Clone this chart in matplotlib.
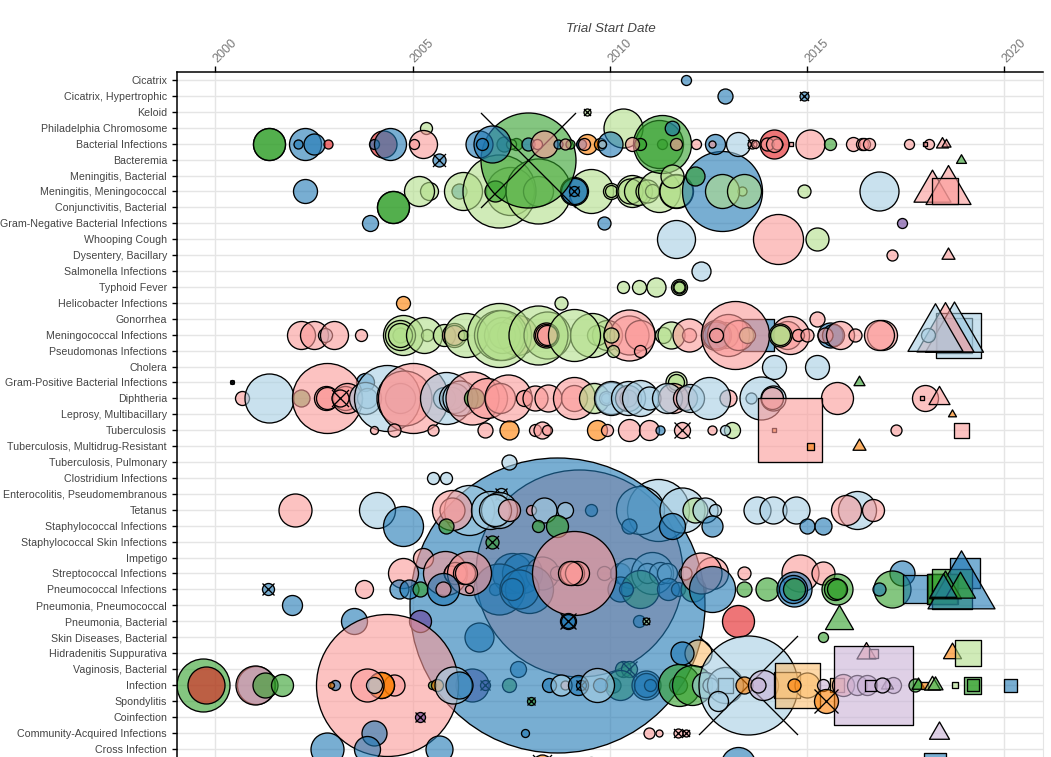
import matplotlib
matplotlib.use("Agg")
import matplotlib.pyplot as plt
from matplotlib.path import Path

condition_labels = [
    "Cicatrix", "Cicatrix, Hypertrophic", "Keloid", "Philadelphia Chromosome", "Bacterial Infections",
    "Bacteremia", "Meningitis, Bacterial", "Meningitis, Meningococcal", "Conjunctivitis, Bacterial",
    "Gram-Negative Bacterial Infections", "Whooping Cough", "Dysentery, Bacillary", "Salmonella Infections",
    "Typhoid Fever", "Helicobacter Infections", "Gonorrhea", "Meningococcal Infections",
    "Pseudomonas Infections", "Cholera", "Gram-Positive Bacterial Infections", "Diphtheria",
    "Leprosy, Multibacillary", "Tuberculosis", "Tuberculosis, Multidrug-Resistant", "Tuberculosis, Pulmonary",
    "Clostridium Infections", "Enterocolitis, Pseudomembranous", "Tetanus", "Staphylococcal Infections",
    "Staphylococcal Skin Infections", "Impetigo", "Streptococcal Infections", "Pneumococcal Infections",
    "Pneumonia, Pneumococcal", "Pneumonia, Bacterial", "Skin Diseases, Bacterial", "Hidradenitis Suppurativa",
    "Vaginosis, Bacterial", "Infection", "Spondylitis", "Coinfection", "Community-Acquired Infections",
    "Cross Infection",
]
year_ticks = [2000, 2005, 2010, 2015, 2020]

# each record: start year, enrollment bubble size, phase code, status/type code
phase_colors = {"lb": "#a6cee3", "b": "#1f78b4", "lg": "#b2df8a", "g": "#33a02c", "p": "#fb9a99",
                "r": "#e31a1c", "lo": "#fdbf6f", "o": "#ff7f00", "lv": "#cab2d6", "v": "#6a3d9a"}

strep_large = [(2009.22, 207, "p", "o")]
pneumo_large = [(2008.65, 295, "b", "o")]

row27_under = [(2011.23, 62, "lb", "o"), (2010.76, 48, "lb", "o"), (2009.52, 12, "b", "o")]
row28_under = [(2010.49, 15, "b", "o")]
row31_under = [(2007.52, 40, "b", "o"), (2007.78, 40, "b", "o"), (2008.28, 33, "p", "o"), (2008.66, 14, "p", "o"),
               (2009.85, 14, "p", "o"), (2010.25, 20, "b", "o"), (2010.51, 30, "lb", "o"), (2011.07, 42, "lb", "o"),
               (2010.93, 20, "lb", "o"), (2011.27, 22, "lb", "o"), (2011.44, 20, "lb", "o")]
row32_under = [(2007.08, 12, "b", "o"), (2007.18, 51, "b", "o"), (2007.94, 48, "b", "o"), (2007.69, 39, "b", "o"),
               (2007.52, 22, "b", "o"), (2010.25, 25, "b", "o"), (2010.76, 38, "g", "o"), (2010.42, 14, "b", "o"),
               (2011.48, 22, "b", "o"), (2011.73, 14, "b", "o"), (2012.11, 25, "g", "o")]
row34_under = [(2010.74, 12, "b", "o")]
row35_under = [(2006.68, 29, "b", "o")]
row37_under = [(2007.67, 16, "b", "o"), (2010.34, 16, "g", "o"), (2010.49, 16, "g", "x")]
row38_under = [(2006.51, 33, "v", "o"), (2006.84, 10, "v", "x"), (2007.44, 14, "g", "o"), (2010.08, 15, "b", "o"),
               (2010.25, 30, "g", "o"), (2010.91, 29, "b", "o"), (2010.91, 24, "b", "o"), (2011.01, 12, "b", "o")]

row0 = [(2011.92, 10, "b", "o")]
row1 = [(2012.92, 15, "b", "o"), (2014.91, 9, "b", "x")]
row2 = [(2009.42, 7, "lg", "x")]
row3 = [(2005.34, 12, "lg", "o"), (2010.32, 39, "lg", "o")]
row4_under = [(2007.31, 15, "b", "o"), (2007.61, 12, "g", "o"), (2007.50, 10, "lg", "o")]
row5 = [(2007.93, 95, "g", "x"), (2005.68, 13, "b", "x"), (2018.91, 10, "g", "^")]
row4 = [(2001.35, 32, "g", "o"), (2001.35, 32, "g", "o"), (2002.26, 32, "b", "o"), (2002.10, 9, "b", "o"),
        (2002.50, 21, "b", "o"), (2002.85, 9, "r", "o"), (2004.26, 27, "r", "o"), (2004.03, 10, "b", "o"),
        (2004.43, 32, "b", "o"), (2005.26, 28, "p", "o"), (2005.03, 10, "p", "o"), (2006.68, 27, "b", "o"),
        (2007.02, 37, "b", "o"), (2006.76, 12, "b", "o"), (2007.92, 13, "b", "o"), (2008.16, 10, "p", "o"),
        (2008.34, 27, "p", "o"), (2008.68, 9, "b", "o"), (2009.00, 9, "g", "o"), (2008.87, 11, "p", "o"),
        (2009.42, 20, "o", "o"), (2009.27, 10, "b", "o"), (2009.34, 12, "p", "o"), (2009.76, 12, "o", "o"),
        (2010.00, 25, "b", "o"), (2009.81, 8, "lb", "o"), (2011.33, 10, "g", "o"), (2011.25, 48, "g", "o"),
        (2011.33, 58, "g", "o"), (2010.76, 12, "g", "o"), (2010.57, 14, "p", "o"), (2011.67, 12, "p", "o"),
        (2012.17, 10, "p", "o"), (2012.66, 20, "b", "o"), (2012.58, 7, "p", "o"), (2013.24, 24, "lb", "o"),
        (2013.61, 9, "p", "x"), (2013.69, 8, "p", "o"), (2014.17, 29, "r", "o"), (2013.97, 13, "p", "o"),
        (2014.23, 11, "p", "o"), (2014.17, 16, "p", "o"), (2014.59, 5, "p", "s"), (2015.07, 29, "p", "o"),
        (2015.58, 12, "g", "o"), (2016.16, 14, "p", "o"), (2016.40, 12, "p", "o"), (2016.45, 12, "p", "o"),
        (2016.57, 12, "p", "o"), (2017.57, 10, "p", "o"), (2018.08, 10, "p", "o"), (2018.00, 5, "p", "s"),
        (2018.41, 12, "p", "^"), (2018.51, 9, "p", "^")]
row3b = [(2011.58, 14.5, "b", "o")]
row6 = [(2012.16, 19, "g", "o"), (2011.58, 23, "lg", "o")]
row7 = [(2002.26, 24, "b", "o"), (2005.42, 18, "lg", "o"), (2005.17, 30, "lg", "o"), (2006.18, 15, "b", "o"),
        (2006.27, 38, "lg", "o"), (2007.48, 48, "lg", "o"), (2007.18, 73, "lg", "o"), (2008.18, 30, "lg", "o"),
        (2008.18, 65, "lg", "o"), (2009.53, 44, "lg", "o"), (2009.09, 28, "b", "o"), (2009.09, 26, "b", "o"),
        (2007.10, 21, "g", "o"), (2009.09, 10, "b", "x"), (2010.02, 16, "lg", "o"), (2010.04, 12, "lg", "o"),
        (2010.57, 32, "lg", "o"), (2010.51, 25, "lg", "o"), (2010.72, 28, "lg", "o"), (2010.93, 23, "lg", "o"),
        (2011.06, 14, "lg", "o"), (2011.25, 42, "lg", "o"), (2011.67, 34, "lg", "o"), (2011.67, 33, "lg", "o"),
        (2012.85, 80, "b", "o"), (2013.34, 9, "lg", "o"), (2012.83, 34, "lg", "o"), (2013.41, 34, "lg", "o"),
        (2014.91, 13, "lg", "o"), (2016.83, 39, "lb", "o"), (2018.16, 37, "p", "^"), (2018.58, 45, "p", "^"),
        (2018.50, 27, "p", "s")]
row8 = [(2004.51, 32, "g", "o"), (2004.51, 32, "g", "o")]
row9 = [(2003.93, 16, "b", "o"), (2009.85, 13, "b", "o"), (2017.41, 10, "v", "o")]
row10 = [(2011.67, 38, "lb", "o"), (2014.25, 50, "p", "o"), (2015.24, 23, "lg", "o")]
row11 = [(2017.16, 11, "p", "o"), (2018.58, 13, "p", "^")]
row12 = [(2012.32, 19, "lb", "o")]
row13 = [(2010.33, 12, "lg", "o"), (2010.74, 14, "lg", "o"), (2011.17, 19, "lg", "o"), (2011.75, 16, "lg", "o"),
         (2011.75, 13, "lg", "o"), (2011.75, 11, "lg", "o")]
row14 = [(2004.76, 14, "o", "o"), (2008.76, 13, "lg", "o")]
row15 = [(2015.25, 15, "p", "o")]
row16 = [(2002.17, 28, "p", "o"), (2002.50, 28, "p", "o"), (2002.78, 14, "lb", "o"), (2003.01, 28, "p", "o"),
         (2003.68, 12, "p", "o"), (2004.69, 15, "lg", "o"), (2004.75, 40, "lg", "o"), (2004.69, 30, "lg", "o"),
         (2004.69, 24, "lg", "o"), (2005.36, 12, "lg", "o"), (2005.28, 36, "lg", "o"), (2005.79, 22, "lg", "o"),
         (2006.04, 24, "p", "o"), (2006.04, 20, "p", "o"), (2006.34, 44, "lg", "o"), (2006.27, 10, "lg", "o"),
         (2007.65, 40, "p", "o"), (2007.27, 26, "lg", "o"), (2007.27, 36, "lg", "o"), (2007.18, 50, "lg", "o"),
         (2007.27, 50, "lg", "o"), (2007.18, 64, "lg", "o"), (2008.41, 47, "lg", "o"), (2008.17, 59, "lg", "o"),
         (2008.37, 25, "p", "o"), (2008.37, 22, "p", "o"), (2008.41, 20, "p", "o"), (2009.93, 30, "lg", "o"),
         (2009.68, 20, "lg", "o"), (2009.55, 44, "lg", "o"), (2009.09, 52, "lg", "o"), (2010.48, 39, "p", "o"),
         (2010.76, 30, "p", "o"), (2010.48, 51, "p", "o"), (2010.04, 15, "lg", "o"), (2011.35, 16, "lg", "o"),
         (2011.56, 27, "lg", "o"), (2012.00, 14, "p", "o"), (2012.00, 33, "p", "o"), (2013.76, 32, "b", "s"),
         (2012.92, 26, "lg", "o"), (2012.70, 30, "b", "o"), (2012.70, 27, "b", "o"), (2013.00, 42, "p", "o"),
         (2013.25, 30, "p", "o"), (2013.47, 16, "lg", "o"), (2013.17, 68, "p", "o"), (2012.68, 14, "p", "o"),
         (2014.48, 28, "p", "o"), (2014.57, 38, "p", "o"), (2014.78, 12, "p", "o"), (2014.99, 13, "p", "o"),
         (2014.31, 23, "lg", "o"), (2014.31, 20, "lg", "o"), (2015.58, 25, "b", "o"), (2015.65, 22, "b", "o"),
         (2015.45, 15, "p", "o"), (2015.83, 28, "p", "o"), (2016.21, 13, "p", "o"), (2016.89, 30, "p", "o"),
         (2016.83, 30, "p", "o"), (2018.71, 35, "lb", "s"), (2018.83, 45, "lb", "s"), (2018.71, 58, "lb", "^"),
         (2018.49, 57, "p", "^"), (2018.07, 14, "lb", "o"), (2018.24, 55, "lb", "^")]
row17 = [(2010.08, 12, "lg", "o"), (2010.76, 12, "p", "o")]
row18 = [(2014.16, 24, "lb", "o"), (2015.24, 24, "lb", "o")]
row19 = [(2000.42, 4, "b", "x"), (2003.78, 18, "b", "o"), (2011.67, 21, "lg", "o"), (2011.67, 16, "lg", "o"),
         (2016.32, 11, "g", "^")]
row20 = [(2000.68, 14, "p", "o"), (2001.35, 49, "lb", "o"), (2002.18, 17, "g", "o"), (2002.83, 70, "p", "o"),
         (2002.80, 24, "p", "o"), (2002.83, 22, "p", "o"), (2003.29, 24, "p", "o"), (2003.33, 30, "p", "o"),
         (2003.16, 17, "p", "x"), (2003.84, 20, "lb", "o"), (2003.80, 32, "lb", "o"), (2004.69, 30, "lb", "o"),
         (2004.35, 66, "lb", "o"), (2004.77, 55, "p", "o"), (2005.01, 70, "p", "o"), (2005.79, 22, "lb", "o"),
         (2006.00, 22, "lb", "o"), (2005.85, 52, "lb", "o"), (2006.04, 30, "lb", "o"), (2006.21, 35, "lb", "o"),
         (2006.51, 53, "p", "o"), (2006.55, 20, "g", "o"), (2006.89, 40, "p", "o"), (2007.22, 30, "p", "o"),
         (2007.41, 47, "p", "o"), (2007.82, 16, "p", "o"), (2008.09, 25, "p", "o"), (2008.43, 27, "p", "o"),
         (2009.09, 26, "p", "o"), (2009.09, 42, "p", "o"), (2009.59, 30, "lg", "o"), (2009.89, 10, "lb", "o"),
         (2009.89, 14, "lb", "o"), (2010.02, 32, "lb", "o"), (2010.04, 34, "lb", "o"), (2010.46, 17, "p", "o"),
         (2010.46, 26, "p", "o"), (2010.46, 34, "lb", "o"), (2010.76, 36, "lb", "o"), (2011.00, 23, "lb", "o"),
         (2011.61, 30, "p", "o"), (2011.44, 30, "lb", "o"), (2011.90, 24, "p", "o"), (2012.03, 28, "lb", "o"),
         (2013.00, 17, "p", "o"), (2012.51, 42, "lb", "o"), (2013.58, 11, "lb", "o"), (2013.83, 43, "lb", "o"),
         (2014.14, 25, "lb", "o"), (2014.10, 22, "p", "o"), (2015.75, 32, "p", "o"), (2017.99, 26, "p", "o"),
         (2017.90, 5, "p", "s"), (2018.33, 21, "p", "^")]
row21 = [(2018.66, 8, "o", "^")]
row22 = [(2004.01, 8, "p", "o"), (2004.52, 13, "p", "o"), (2005.52, 11, "p", "o"), (2006.84, 15, "p", "o"),
         (2007.43, 19, "o", "o"), (2008.10, 12, "p", "o"), (2008.27, 17, "p", "o"), (2008.41, 10, "p", "o"),
         (2009.68, 20, "o", "o"), (2009.93, 12, "p", "o"), (2010.48, 22, "p", "o"), (2011.00, 20, "p", "o"),
         (2011.27, 9, "b", "o"), (2011.83, 16, "p", "x"), (2012.58, 9, "p", "o"), (2013.09, 16, "lg", "o"),
         (2012.92, 10, "lb", "o"), (2014.16, 5, "o", "s"), (2014.57, 64, "p", "s"), (2017.24, 11, "p", "o"),
         (2018.90, 15, "p", "s")]
row23 = [(2015.07, 7, "o", "s"), (2016.32, 13, "o", "^")]
row24 = [(2007.43, 15, "lb", "o")]
row25 = [(2005.52, 12, "lb", "o"), (2005.85, 12, "lb", "o")]
row26 = [(2007.23, 12, "lb", "x")]
row27 = [(2002.01, 33, "p", "o"), (2004.09, 36, "lb", "o"), (2006.42, 50, "lb", "o"), (2006.00, 25, "p", "o"),
         (2006.00, 40, "p", "o"), (2006.97, 38, "lb", "o"), (2007.18, 36, "lb", "o"), (2007.10, 32, "lb", "o"),
         (2007.44, 22, "p", "o"), (2007.99, 10, "p", "o"), (2008.34, 25, "lb", "o"), (2008.86, 16, "lb", "o"),
         (2011.82, 45, "lb", "o"), (2012.16, 25, "lg", "o"), (2012.41, 25, "lb", "o"), (2012.66, 12, "lb", "o"),
         (2013.72, 27, "lb", "o"), (2014.14, 27, "lb", "o"), (2014.73, 27, "lb", "o"), (2016.26, 38, "lb", "o"),
         (2015.98, 30, "p", "o"), (2016.66, 22, "p", "o")]
row28 = [(2004.76, 40, "b", "o"), (2005.85, 15, "g", "o"), (2008.17, 12, "g", "o"), (2008.66, 22, "g", "o"),
         (2011.58, 26, "b", "o"), (2012.58, 21, "b", "o"), (2014.99, 15, "b", "o"), (2015.41, 17, "b", "o")]
row29 = [(2007.01, 13, "g", "x")]
row30 = [(2005.26, 20, "p", "o")]
row31 = [(2004.75, 30, "p", "o"), (2005.83, 44, "p", "o"), (2005.96, 15, "p", "o"), (2006.08, 22, "p", "o"),
         (2006.44, 44, "p", "o"), (2006.29, 22, "p", "o"), (2006.34, 22, "p", "o"), (2009.09, 84, "p", "o"),
         (2009.04, 24, "p", "o"), (2009.17, 24, "p", "o"), (2009.00, 24, "p", "o"), (2011.90, 13, "lb", "o"),
         (2012.58, 32, "p", "o"), (2012.32, 41, "p", "o"), (2013.41, 13, "p", "o"), (2014.82, 37, "p", "o"),
         (2015.41, 23, "p", "o"), (2019.00, 30, "b", "s"), (2017.41, 25, "b", "o")]
row32 = [(2001.34, 12, "b", "x"), (2003.76, 18, "p", "o"), (2004.66, 19, "b", "o"), (2004.92, 19, "b", "o"),
         (2005.19, 15, "g", "o"), (2005.76, 32, "b", "o"), (2005.76, 15, "p", "o"), (2006.42, 8, "p", "o"),
         (2012.58, 46, "b", "o"), (2013.41, 15, "g", "o"), (2013.98, 23, "g", "o"), (2014.66, 35, "b", "o"),
         (2014.63, 28, "b", "o"), (2014.66, 22, "g", "o"), (2015.75, 31, "g", "o"), (2015.71, 22, "g", "o"),
         (2015.75, 20, "g", "o"), (2017.16, 37, "g", "o"), (2016.83, 13, "b", "o"), (2017.78, 28, "b", "s"),
         (2018.45, 30, "g", "s"), (2018.41, 30, "g", "s"), (2018.66, 40, "g", "s"), (2018.90, 67, "b", "^"),
         (2018.50, 32, "g", "^"), (2018.88, 30, "g", "^"), (2018.44, 27, "b", "^")]
row33 = [(2001.93, 20, "b", "o")]
row34 = [(2003.51, 26, "b", "o"), (2005.18, 22, "v", "o"), (2008.93, 16, "b", "x"), (2008.93, 14, "b", "x"),
         (2010.91, 7, "lg", "x"), (2013.25, 32, "r", "o"), (2015.82, 28, "g", "^")]
row35 = [(2015.41, 10, "g", "o")]
row36 = [(2012.24, 27, "lo", "o"), (2011.82, 23, "b", "o"), (2016.49, 19, "p", "^"), (2016.66, 9, "p", "s"),
         (2018.66, 18, "o", "^"), (2019.07, 27, "lg", "s")]
row38 = [(1999.68, 53, "g", "o"), (1999.76, 37, "r", "o"), (2001.03, 38, "b", "o"), (2001.00, 39, "p", "o"),
         (2001.26, 25, "g", "o"), (2001.68, 22, "g", "o"), (2004.35, 142, "p", "o"), (2003.02, 10, "b", "o"),
         (2002.94, 6, "o", "o"), (2004.53, 21, "p", "o"), (2004.20, 26, "o", "o"), (2004.20, 26, "o", "o"),
         (2003.84, 33, "p", "o"), (2004.03, 16, "lb", "o"), (2005.49, 8, "g", "o"), (2005.62, 12, "o", "o"),
         (2006.02, 37, "lb", "o"), (2006.18, 27, "b", "o"), (2008.45, 14, "b", "o"), (2008.86, 9, "p", "o"),
         (2008.75, 21, "lb", "o"), (2009.19, 20, "b", "o"), (2009.27, 10, "b", "x"), (2009.76, 14, "b", "o"),
         (2009.68, 34, "lb", "o"), (2011.73, 18, "b", "o"), (2011.75, 42, "g", "o"), (2012.07, 40, "g", "o"),
         (2012.41, 26, "lb", "o"), (2012.54, 15, "lb", "o"), (2012.92, 36, "lb", "o"), (2012.92, 15, "lb", "s"),
         (2013.49, 99, "lb", "x"), (2013.41, 17, "o", "o"), (2013.89, 30, "lv", "o"), (2013.76, 15, "lv", "o"),
         (2014.48, 26, "lo", "s"), (2014.99, 25, "lo", "o"), (2014.74, 45, "lo", "s"), (2014.66, 13, "o", "o"),
         (2015.41, 12, "lv", "o"), (2015.75, 14, "lo", "s"), (2015.92, 22, "p", "o"), (2016.26, 20, "lv", "o"),
         (2016.51, 20, "lv", "o"), (2017.17, 16, "lv", "o"), (2017.02, 12, "lv", "^"), (2016.66, 79, "lv", "s"),
         (2016.59, 11, "lv", "s"), (2016.91, 15, "lv", "o"), (2017.73, 13, "g", "o"), (2017.82, 13, "g", "^"),
         (2017.96, 7, "o", "s"), (2018.16, 16, "lg", "^"), (2018.24, 15, "g", "^"), (2018.75, 6, "lg", "s"),
         (2019.17, 17, "g", "s"), (2019.21, 12, "g", "s"), (2020.15, 13, "b", "s")]
row39 = [(2008.01, 8, "g", "x"), (2012.75, 20, "lb", "o"), (2015.49, 24, "o", "x")]
row40 = [(2005.18, 10, "v", "x")]
row41 = [(2004.01, 25, "b", "o"), (2007.84, 8, "b", "o"), (2011.00, 11, "p", "o"), (2011.25, 7, "p", "o"),
         (2011.73, 9, "p", "x"), (2011.93, 7, "p", "x"), (2018.33, 20, "lv", "^")]
row42 = [(2002.84, 33, "b", "o"), (2003.84, 26, "b", "o"), (2005.68, 27, "b", "o")]
row43 = [(2008.27, 19, "o", "x"), (2009.52, 14, "o", "o"), (2013.25, 34, "b", "o"), (2018.24, 23, "b", "s")]

draw_groups = [(31, strep_large), (27, row27_under), (28, row28_under), (31, row31_under), (32, row32_under),
               (34, row34_under), (35, row35_under), (37, row37_under), (38, row38_under), (33, pneumo_large),
               (0, row0), (1, row1), (2, row2), (3, row3), (7, row7), (4, row4_under), (5, row5), (4, row4),
               (3, row3b), (6, row6), (8, row8), (9, row9), (10, row10), (11, row11),
               (12, row12), (13, row13), (14, row14), (15, row15), (16, row16), (17, row17), (18, row18),
               (19, row19), (20, row20), (21, row21), (22, row22), (23, row23), (24, row24), (25, row25),
               (26, row26), (27, row27), (28, row28), (29, row29), (30, row30), (31, row31), (32, row32),
               (33, row33), (34, row34), (35, row35), (36, row36), (38, row38), (39, row39),
               (40, row40), (41, row41), (42, row42), (43, row43)]

W, H = 1051, 757
L, R, T = 176.5, 1043.0, 72.0
plt.rcParams["font.family"] = ["Liberation Sans", "DejaVu Sans"]
fig = plt.figure(figsize=(W / 100, H / 100), dpi=100)
ax = fig.add_axes([L / W, 0, (R - L) / W, (H - T) / H])

px_per_year = 39.45
ax.set_xlim(2000 + (L - 215.4) / px_per_year, 2000 + (R - 215.4) / px_per_year)
row_step = 15.917
ax.set_ylim((H - 80.0) / row_step, (T - 80.0) / row_step)

ax.set_xticks(year_ticks)
ax.set_yticks(range(len(condition_labels)))
ax.set_yticklabels(condition_labels, fontsize=7.7, color="#444444")
ax.xaxis.tick_top()
ax.xaxis.set_label_position("top")
ax.set_xticklabels([str(y) for y in year_ticks], fontsize=9, color="#777777",
                   rotation=45, ha="left", va="center", rotation_mode="anchor")
ax.tick_params(axis="x", length=4.2, width=1, color="black", pad=4)
ax.tick_params(axis="y", length=3.6, width=1, color="black", pad=3.2)
ax.set_xlabel("Trial Start Date", fontsize=9.7, style="italic", color="#444444", va="center")
ax.xaxis.set_label_coords((610.5 - L) / (R - L), (H - 29.5) / (H - T))

ax.grid(True, color="#e5e5e5", linewidth=1)
ax.set_axisbelow(True)
for side, spine in ax.spines.items():
    if side in ("top", "left"):
        spine.set_color("black")
        spine.set_linewidth(1.1)
    elif side == "right":
        spine.set_color("#e5e5e5")
    else:
        spine.set_visible(False)

triangle_path = Path([(0, 1), (-0.866, -0.5), (0.866, -0.5), (0, 1)], closed=True)
PT = 0.72
for row, records in draw_groups:
    for year, size, phase, kind in records:
        face = matplotlib.colors.to_rgba(phase_colors[phase], 0.6)
        d = size * PT
        if kind == "^":
            ax.scatter([year], [row], s=(d / 0.866) ** 2, marker=triangle_path, facecolor=face,
                       edgecolor="black", linewidth=0.95)
            continue
        marker = "s" if kind == "s" else "o"
        ax.scatter([year], [row], s=d ** 2, marker=marker, facecolor=face,
                   edgecolor="black", linewidth=0.95)
        if kind == "x":
            ax.scatter([year], [row], s=d ** 2, marker="x", color="black", linewidth=0.95)

fig.savefig("out.png", dpi=100)
